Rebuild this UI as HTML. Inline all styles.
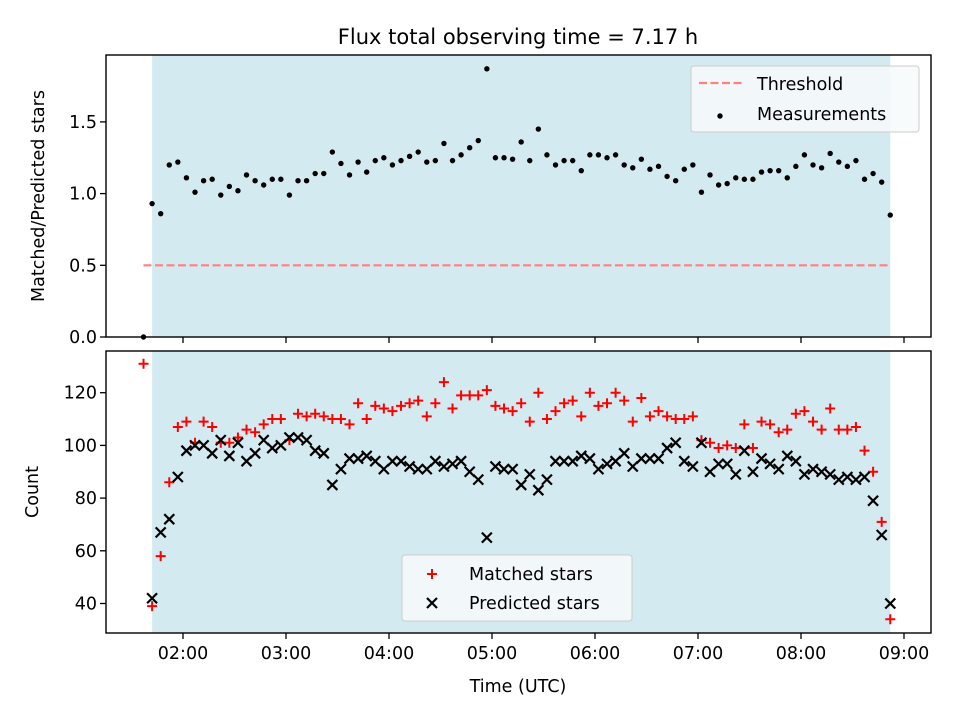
<!DOCTYPE html>
<html><head><meta charset="utf-8"><style>
html,body{margin:0;padding:0;background:#fff;}
svg text{font-family:"DejaVu Sans","Liberation Sans",sans-serif;fill:#000;}
</style></head><body>
<svg id="chart" width="960" height="720" viewBox="0 0 960 720" xmlns="http://www.w3.org/2000/svg">
<rect width="960" height="720" fill="#fff"/>
<text x="518" y="44" font-size="21" text-anchor="middle">Flux total observing time = 7.17 h</text>
<g id="topPanel"></g>
<g id="botPanel"></g>
<text x="518" y="692" font-size="17.5" text-anchor="middle">Time (UTC)</text>
<text transform="translate(44,196) rotate(-90)" font-size="17.5" text-anchor="middle">Matched/Predicted stars</text>
<text transform="translate(38,492) rotate(-90)" font-size="17.5" text-anchor="middle">Count</text>
</svg>
<script>
const times=[97,102,107,112,117,122,127,132,137,142,147,152,157,162,167,172,177,182,187,192,197,202,207,212,217,222,227,232,237,242,247,252,257,262,267,272,277,282,287,292,297,302,307,312,317,322,327,332,337,342,347,352,357,362,367,372,377,382,387,392,397,402,407,412,417,422,427,432,437,442,447,452,457,462,467,472,477,482,487,492,497,502,507,512,517,522,527,532];
const ratio=[0.00,0.93,0.86,1.20,1.22,1.11,1.01,1.09,1.10,0.99,1.05,1.02,1.13,1.09,1.06,1.10,1.10,0.99,1.09,1.09,1.14,1.14,1.29,1.21,1.13,1.22,1.15,1.23,1.25,1.20,1.23,1.26,1.29,1.22,1.23,1.35,1.23,1.27,1.32,1.37,1.87,1.25,1.25,1.24,1.36,1.23,1.45,1.27,1.20,1.23,1.23,1.16,1.27,1.27,1.25,1.27,1.20,1.18,1.24,1.17,1.19,1.12,1.09,1.17,1.20,1.01,1.13,1.06,1.07,1.11,1.10,1.10,1.15,1.16,1.16,1.11,1.19,1.27,1.20,1.18,1.28,1.22,1.19,1.23,1.10,1.14,1.08,0.85];
const matched=[131,39,58,86,107,109,101,109,107,101,101,103,106,105,108,110,110,102,112,111,112,111,110,110,108,116,110,115,114,113,115,116,117,111,116,124,114,119,119,119,121,115,114,113,116,109,120,110,113,116,117,111,120,115,116,120,117,109,118,111,113,111,110,110,111,102,101,99,100,99,108,99,109,108,105,106,112,113,109,106,114,106,106,107,98,90,71,34];
const predicted=[null,42,67,72,88,98,100,100,97,102,96,101,94,97,102,99,100,103,103,102,98,97,85,91,95,95,96,94,91,94,94,92,91,91,94,92,93,94,90,87,65,92,91,91,85,89,83,87,94,94,94,96,95,91,93,94,97,92,95,95,95,99,101,94,92,101,90,93,93,89,98,90,95,93,91,96,94,89,91,90,89,87,88,87,88,79,66,40];
const topTicks=[0,0.5,1.0,1.5];
const topTickLabels=["0.0","0.5","1.0","1.5"];
const botTicks=[40,60,80,100,120];
const xTicks=[120,180,240,300,360,420,480,540];
const xTickLabels=["02:00","03:00","04:00","05:00","06:00","07:00","08:00","09:00"];
const threshold=0.5;
const obsStart=102, obsEnd=532;

const NS="http://www.w3.org/2000/svg";
const L=106,R=931;
const FS=17.5;
const X=m=>183+(m-120)*103/60;
const YT=v=>337-v*143.4;
const YB=v=>603.5-(v-40)*2.635;
function mk(p,tag,a){const e=document.createElementNS(NS,tag);for(const k in a)e.setAttribute(k,a[k]);p.appendChild(e);return e;}
const topG=document.getElementById('topPanel'), botG=document.getElementById('botPanel');

function panel(g,y0,y1,name){
  const sh=mk(g,'rect',{x:X(obsStart),y:y0,width:X(obsEnd)-X(obsStart),height:y1-y0,fill:'#d4eaf1'});
  
  
}
function frame(g,y0,y1,name,labels){
  const f=mk(g,'rect',{x:L,y:y0,width:R-L,height:y1-y0,fill:'none',stroke:'#000','stroke-width':1.4});
  
  
  xTicks.forEach((t,i)=>{
    const tk=mk(g,'line',{x1:X(t),x2:X(t),y1:y1,y2:y1+6,stroke:'#000','stroke-width':1.3});
    
    
    if(labels){
      const tx=mk(g,'text',{x:X(t),y:y1+26,'font-size':FS,'text-anchor':'middle'});
      tx.textContent=xTickLabels[i];
      
      
    }
  });
}
// top panel
panel(topG,55,337,'top');
const th=mk(topG,'line',{x1:X(times[0]),x2:X(obsEnd),y1:YT(threshold),y2:YT(threshold),stroke:'#ff8080','stroke-width':2.2,'stroke-dasharray':'8,3.5'});


ratio.forEach((v,i)=>{
  const c=mk(topG,'circle',{cx:X(times[i]),cy:YT(v),r:2.7,fill:'#000'});
  
  
});
frame(topG,55,337,'top',false);
topTicks.forEach((t,i)=>{
  const tk=mk(topG,'line',{x1:L-6,x2:L,y1:YT(t),y2:YT(t),stroke:'#000','stroke-width':1.3});
  
  
  const tx=mk(topG,'text',{x:L-9,y:YT(t)+6,'font-size':FS,'text-anchor':'end'});
  tx.textContent=topTickLabels[i];
  
  
});
// top legend
const lg1=mk(topG,'g',{});


mk(lg1,'rect',{x:691,y:66,width:228,height:66,rx:3,fill:'#f7fafc','fill-opacity':0.85,stroke:'#ccc'});
mk(lg1,'line',{x1:699,x2:743,y1:83,y2:83,stroke:'#ff8080','stroke-width':2.2,'stroke-dasharray':'8,3.5'});
mk(lg1,'circle',{cx:720,cy:116,r:2.7,fill:'#000'});
const t1=mk(lg1,'text',{x:757,y:90,'font-size':FS});t1.textContent='Threshold';


const t2=mk(lg1,'text',{x:757,y:120,'font-size':FS});t2.textContent='Measurements';



// bottom panel
panel(botG,351,633,'bottom');
function plus(g,x,y){return mk(g,'path',{d:`M${x-5},${y}H${x+5}M${x},${y-5}V${y+5}`,stroke:'#ff0000','stroke-width':2,fill:'none'});}
function cross(g,x,y){return mk(g,'path',{d:`M${x-5},${y-5}L${x+5},${y+5}M${x-5},${y+5}L${x+5},${y-5}`,stroke:'#000','stroke-width':2.2,fill:'none'});}
matched.forEach((v,i)=>{
  const p=plus(botG,X(times[i]),YB(v));
  
  
});
predicted.forEach((v,i)=>{
  if(v===null)return;
  const p=cross(botG,X(times[i]),YB(v));
  
  
});
frame(botG,351,633,'bottom',true);
botTicks.forEach(t=>{
  const tk=mk(botG,'line',{x1:L-6,x2:L,y1:YB(t),y2:YB(t),stroke:'#000','stroke-width':1.3});
  
  
  const tx=mk(botG,'text',{x:L-9,y:YB(t)+6,'font-size':FS,'text-anchor':'end'});
  tx.textContent=String(t);
  
  
});
const lg2=mk(botG,'g',{});


mk(lg2,'rect',{x:402,y:555,width:230,height:66,rx:3,fill:'#f7fafc','fill-opacity':0.85,stroke:'#ccc'});
plus(lg2,432,574);
cross(lg2,432,603);
const t3=mk(lg2,'text',{x:469,y:580,'font-size':FS});t3.textContent='Matched stars';


const t4=mk(lg2,'text',{x:469,y:609,'font-size':FS});t4.textContent='Predicted stars';


</script>
</body></html>
